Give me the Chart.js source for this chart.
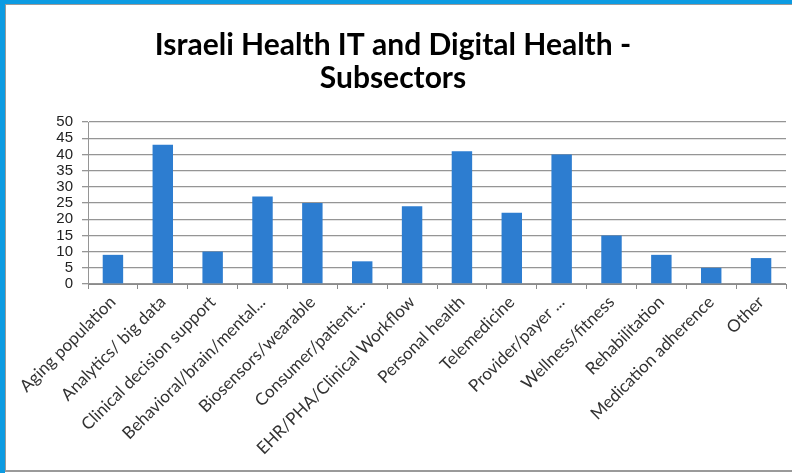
<!DOCTYPE html>
<html>
<head>
<meta charset="utf-8">
<script src="https://cdn.jsdelivr.net/npm/chart.js@4.4.0/dist/chart.umd.min.js"></script>
<style>
  html, body { margin: 0; padding: 0; background: #ffffff; }
  #frame { position: absolute; left: 0; top: 0; width: 792px; height: 473px; box-sizing: border-box;
           border-left: 5px solid #0c9be2; border-top: 4px solid #0c9be2; }
  #inner { position: absolute; left: 0; top: 0; right: 0; bottom: 1px; box-sizing: border-box;
           border-left: 1px solid #9a9a9a; border-top: 1px solid #9a9a9a; border-bottom: 2px solid #9a9a9a; }
  #wrap { position: absolute; left: 0; top: 0; width: 792px; height: 473px; }
</style>
</head>
<body>
<div id="frame"><div id="inner"></div></div>
<div id="wrap"><canvas id="c" width="792" height="473"></canvas></div>
<script>
const titleLines = ["Israeli Health IT and Digital Health -", "Subsectors"];
const categories = [
  "Aging population",
  "Analytics/ big data",
  "Clinical decision support",
  "Behavioral/brain/mental...",
  "Biosensors/wearable",
  "Consumer/patient...",
  "EHR/PHA/Clinical Workflow",
  "Personal health",
  "Telemedicine",
  "Provider/payer ...",
  "Wellness/fitness",
  "Rehabilitation",
  "Medication adherence",
  "Other"
];
const counts = [9, 43, 10, 27, 25, 7, 24, 41, 22, 40, 15, 9, 5, 8];
const yTicks = [0, 5, 10, 15, 20, 25, 30, 35, 40, 45, 50];

const chart = new Chart(document.getElementById('c'), {
  type: 'bar',
  data: {
    labels: categories,
    datasets: [{
      label: 'Subsectors',
      data: counts,
      backgroundColor: '#2d7dd0',
      borderWidth: 0,
      categoryPercentage: 1.0,
      barPercentage: 0.41
    }]
  },
  options: {
    responsive: false,
    animation: false,
    devicePixelRatio: 1,
    layout: { padding: { left: 0, right: 6, top: 0, bottom: 0 } },
    plugins: {
      legend: { display: false },
      tooltip: { enabled: false },
      title: {
        display: true,
        text: titleLines,
        color: '#000000',
        font: { family: 'Lato', size: 30, weight: 'bold', lineHeight: 1.1 },
        padding: { top: 29, bottom: 27 }
      }
    },
    scales: {
      x: {
        grid: { drawOnChartArea: false, drawTicks: true, tickLength: 5, color: '#8a8a8a', offset: true },
        border: { display: true, color: '#8a8a8a', width: 1 },
        ticks: {
          autoSkip: false, maxRotation: 45, minRotation: 45, padding: 3,
          color: '#333333', font: { family: 'Lato', size: 17 }
        },
        afterFit: (s) => { s.height = 189; }
      },
      y: {
        min: 0, max: 50,
        afterBuildTicks: (s) => { s.ticks = yTicks.map(v => ({ value: v })); },
        grid: { color: '#959595', lineWidth: 1.3, tickLength: 6 },
        border: { display: true, color: '#959595', width: 1 },
        ticks: { autoSkip: false, padding: 9, color: '#222222', font: { family: 'Liberation Sans', size: 15, lineHeight: 1 } },
        afterFit: (s) => { s.width = 88; }
      }
    }
  }
});
</script>
</body>
</html>
